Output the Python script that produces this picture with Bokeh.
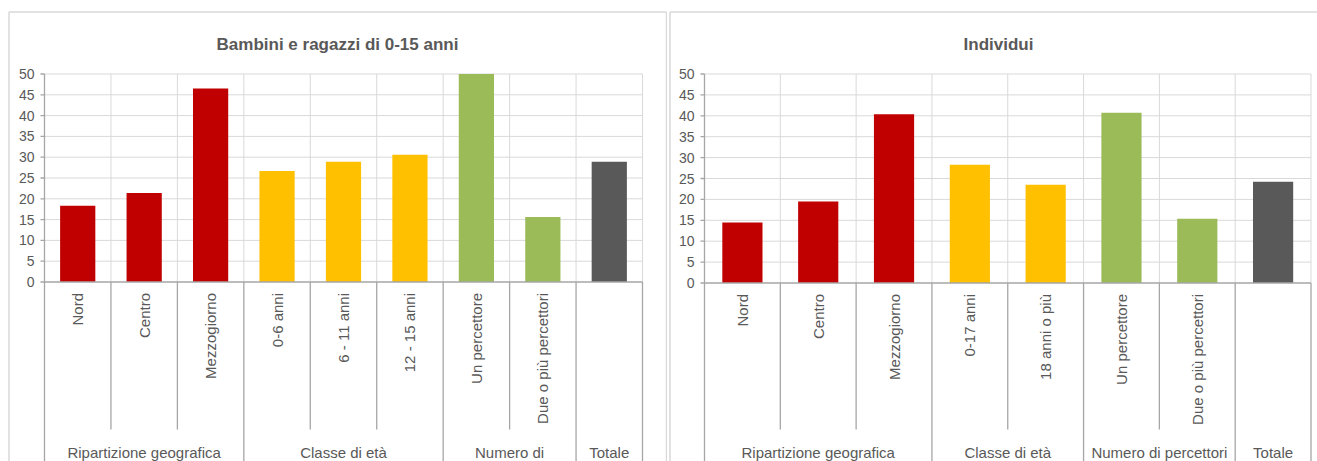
import numpy as np
from bokeh.plotting import figure
from bokeh.models import Range1d
from bokeh.layouts import row
from bokeh.embed import file_html
from bokeh.resources import INLINE
from bokeh.core.properties import value

# ---- data -------------------------------------------------------------
y_ticks = [0, 5, 10, 15, 20, 25, 30, 35, 40, 45, 50]

children_title = "Bambini e ragazzi di 0-15 anni"
children_categories = ["Nord", "Centro", "Mezzogiorno",
                       "0-6 anni", "6 - 11 anni", "12 - 15 anni",
                       "Un percettore", "Due o più percettori", "Totale"]
children_values = [18.3, 21.4, 46.5, 26.7, 28.9, 30.6, 50.0, 15.6, 28.9]
children_groups = ["Ripartizione geografica", "Classe di età", "Numero di", "Totale"]
children_group_sizes = [3, 3, 2, 1]

adults_title = "Individui"
adults_categories = ["Nord", "Centro", "Mezzogiorno",
                     "0-17 anni", "18 anni o più",
                     "Un percettore", "Due o più percettori", "Totale"]
adults_values = [14.5, 19.5, 40.4, 28.3, 23.5, 40.7, 15.4, 24.2]
adults_groups = ["Ripartizione geografica", "Classe di età", "Numero di percettori", "Totale"]
adults_group_sizes = [3, 2, 2, 1]

group_colors = ["#C00000", "#FFC000", "#9BBB59", "#595959"]

# ---- styling ----------------------------------------------------------
FONT = value("Liberation Sans")
TEXT_COLOR = "#595959"
GRID_COLOR = "#d9d9d9"
AXIS_COLOR = "#a6a6a6"
FRAME_COLOR = "#d9d9d9"
HEIGHT = 461
Y_MAX = 50


def make_panel(title, cats, vals, groups, sizes, width, plot_left, plot_right,
               zero_px, top_px, frame_left, frame_right, title_x):
    n = len(cats)
    cw = (plot_right - plot_left) / n          # pixels per category
    ppu = (zero_px - top_px) / Y_MAX           # pixels per unit on y

    def fx(px):
        return (px - plot_left) / cw

    def fy(py):
        return (zero_px - py) / ppu

    p = figure(width=width, height=HEIGHT,
               x_range=Range1d(fx(0), fx(width)),
               y_range=Range1d(fy(HEIGHT), fy(0)),
               output_backend="svg", toolbar_location=None,
               x_axis_location=None, y_axis_location=None,
               min_border=0, min_border_left=0, min_border_right=0,
               min_border_top=0, min_border_bottom=0)
    p.outline_line_color = None
    p.xgrid.visible = False
    p.ygrid.visible = False
    p.background_fill_color = "white"
    p.border_fill_color = "white"

    # chart frame (top, left and optional right edge)
    xs = [[fx(frame_left), fx(frame_right if frame_right else width)],
          [fx(frame_left), fx(frame_left)]]
    ys = [[fy(11.5), fy(11.5)], [fy(11.5), fy(HEIGHT)]]
    if frame_right:
        xs.append([fx(frame_right), fx(frame_right)])
        ys.append([fy(11.5), fy(HEIGHT)])
    p.multi_line(xs, ys, line_color=FRAME_COLOR, line_width=1.5)

    # gridlines
    hticks = [t for t in y_ticks if t > 0]
    p.segment(x0=[0] * len(hticks), x1=[n] * len(hticks), y0=hticks, y1=hticks,
              line_color=GRID_COLOR, line_width=1)
    vx = list(range(1, n + 1))
    p.segment(x0=vx, x1=vx, y0=[0] * n, y1=[Y_MAX] * n,
              line_color=GRID_COLOR, line_width=1)

    # bars
    colors = list(np.repeat(group_colors[:len(sizes)], sizes))
    p.vbar(x=np.arange(n) + 0.5, top=vals, bottom=0, width=0.53,
           fill_color=colors, line_color=None)

    # y axis: line, outside ticks, labels
    p.segment(x0=[0], x1=[0], y0=[0], y1=[Y_MAX], line_color=AXIS_COLOR, line_width=1.3)
    p.segment(x0=[fx(plot_left - 4)] * len(y_ticks), x1=[0] * len(y_ticks),
              y0=y_ticks, y1=y_ticks, line_color=AXIS_COLOR, line_width=1.3)
    p.text(x=[fx(plot_left - 10)] * len(y_ticks), y=y_ticks, text=[str(t) for t in y_ticks],
           text_align="right", text_baseline="middle", text_font=FONT,
           text_font_size="14px", text_color=TEXT_COLOR)

    # x axis line and category separators
    p.segment(x0=[0], x1=[n], y0=[0], y1=[0], line_color=AXIS_COLOR, line_width=1.3)
    bounds = set(np.cumsum([0] + sizes).tolist())
    sx = list(range(0, n + 1))
    sy1 = [fy(HEIGHT) if i in bounds else fy(429) for i in sx]
    p.segment(x0=sx, x1=sx, y0=[0] * len(sx), y1=sy1, line_color=AXIS_COLOR, line_width=1.3)

    # category labels, vertical (single-column groups carry only the group label)
    group_of = np.repeat(np.arange(len(sizes)), sizes)
    tick_labels = ["" if sizes[g] == 1 else c for c, g in zip(cats, group_of)]
    p.text(x=np.arange(n) + 0.5, y=[fy(zero_px + 11)] * n, text=tick_labels, angle=np.pi / 2,
           text_align="right", text_baseline="middle", text_font=FONT,
           text_font_size="15px", text_color=TEXT_COLOR)

    # group labels
    edges = np.cumsum([0] + sizes)
    centers = (edges[:-1] + edges[1:]) / 2
    p.text(x=centers, y=[fy(452)] * len(groups), text=groups,
           text_align="center", text_baseline="middle", text_font=FONT,
           text_font_size="15px", text_color=TEXT_COLOR)

    # title
    p.text(x=[fx(title_x)], y=[fy(44)], text=[title], text_align="center",
           text_baseline="middle", text_font=FONT, text_font_size="17px",
           text_font_style="bold", text_color=TEXT_COLOR)
    return p


left = make_panel(children_title, children_categories, children_values,
                  children_groups, children_group_sizes,
                  width=667, plot_left=44, plot_right=642, zero_px=281.5, top_px=73.5,
                  frame_left=8.5, frame_right=666, title_x=337)
right = make_panel(adults_title, adults_categories, adults_values,
                   adults_groups, adults_group_sizes,
                   width=650, plot_left=37, plot_right=643.5, zero_px=282.5, top_px=73.5,
                   frame_left=2.5, frame_right=None, title_x=331)

layout = row(left, right, spacing=0)
open("out.html", "w").write(file_html(layout, INLINE))
